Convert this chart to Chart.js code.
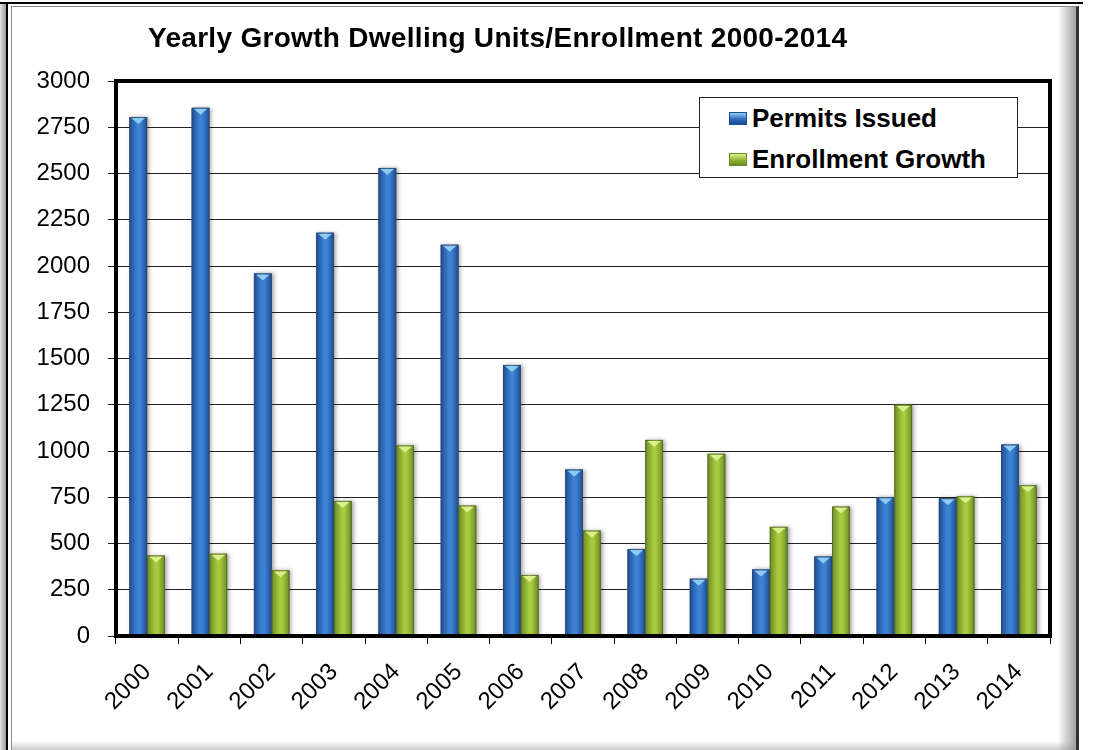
<!DOCTYPE html>
<html>
<head>
<meta charset="utf-8">
<title>Yearly Growth Dwelling Units/Enrollment 2000-2014</title>
<script src="https://cdn.jsdelivr.net/npm/chart.js@4.4.1/dist/chart.umd.min.js"></script>
<style>
    body { margin: 0; background: #fff; font-family: "Liberation Sans", Arial, sans-serif; }
    #wrap { position: relative; width: 1098px; height: 750px; overflow: hidden; }
    .frame { position: absolute; }
    #topLine { left: 0; top: 2px; width: 1083px; height: 2px; background: #000; }
    #leftBevel { left: 0; top: 4px; width: 6px; height: 746px; background: linear-gradient(to right, #e4e4e4, #9a9a9a); }
    #leftLine { left: 6px; top: 4px; width: 2px; height: 746px; background: #000; }
    #panel {
        left: 11px; top: 6px; width: 1064px; height: 744px;
        border-left: 1px solid #8a8a8a; border-top: 1px solid #8a8a8a; border-right: 3px solid #333;
        background:
            linear-gradient(to left, rgba(150,150,150,0.9) 0px, rgba(255,255,255,0) 18px),
            linear-gradient(to top, rgba(190,190,190,0.9) 0px, rgba(255,255,255,0) 10px),
            #fff;
    }
    #chartTitle {
        position: absolute; left: 148px; top: 24px; letter-spacing: 0.3px;
        font-size: 28px; line-height: 28px; font-weight: bold; color: #000; white-space: nowrap;
    }
    #legend {
        position: absolute; left: 699px; top: 97px; width: 317px; height: 79px;
        border: 1px solid #222; background: #fff;
    }
    .item { position: absolute; left: 29px; font-size: 26px; font-weight: bold; line-height: 26px; white-space: nowrap; }
    .swatch { display: inline-block; width: 16px; height: 11px; margin-right: 5px; vertical-align: 2px; }
    canvas { position: absolute; left: 0; top: 0; }
</style>
</head>
<body>
<div id="wrap">
    <div class="frame" id="topLine"></div>
    <div class="frame" id="leftBevel"></div>
    <div class="frame" id="leftLine"></div>
    <div class="frame" id="panel"></div>
    <canvas id="growthChart" width="1098" height="750"></canvas>
    <div id="chartTitle">Yearly Growth Dwelling Units/Enrollment 2000-2014</div>
    <div id="legend"></div>
</div>
<script>
// Data
const years = ['2000', '2001', '2002', '2003', '2004', '2005', '2006', '2007',
               '2008', '2009', '2010', '2011', '2012', '2013', '2014'];
const permitsIssued = [2805, 2855, 1960, 2180, 2530, 2115, 1465, 900, 470, 310, 360, 430, 750, 745, 1035];
const enrollmentGrowth = [435, 445, 355, 730, 1030, 705, 330, 570, 1060, 985, 590, 700, 1250, 755, 815];
const seriesNames = ['Permits Issued', 'Enrollment Growth'];
const yTicks = { min: 0, max: 3000, step: 250 };

// colours for the shaded bars: edge, centre, cap
const barShades = [
    { base: '#2B67B8', edge: '#1E4E94', mid: '#3C82D4', cap: '#8ECBF3' },
    { base: '#8BB030', edge: '#6C8C22', mid: '#A6CA40', cap: '#DCF08A' }
];

// paints each bar with a horizontal gradient, a light cap and a soft shadow
const barShading = {
    id: 'barShading',
    afterDatasetsDraw(chart) {
        const ctx = chart.ctx;
        chart.data.datasets.forEach((ds, di) => {
            const meta = chart.getDatasetMeta(di);
            const shade = barShades[di];
            meta.data.forEach(bar => {
                const p = bar.getProps(['x', 'y', 'width', 'base'], true);
                const left = p.x - p.width / 2, right = p.x + p.width / 2;
                const top = p.y, h = p.base - p.y;
                ctx.save();
                ctx.shadowColor = 'rgba(0,0,0,0.35)';
                ctx.shadowBlur = 4;
                ctx.shadowOffsetX = 2;
                ctx.shadowOffsetY = 0;
                const g = ctx.createLinearGradient(left, 0, right, 0);
                g.addColorStop(0, shade.edge);
                g.addColorStop(0.45, shade.mid);
                g.addColorStop(0.6, shade.mid);
                g.addColorStop(1, shade.edge);
                ctx.fillStyle = g;
                ctx.fillRect(left, top, p.width, h);
                ctx.restore();
                // top cap
                ctx.save();
                ctx.fillStyle = shade.cap;
                ctx.beginPath();
                ctx.moveTo(left + 2, top + 1);
                ctx.lineTo(right - 2, top + 1);
                ctx.lineTo(p.x, top + 7);
                ctx.closePath();
                ctx.fill();
                ctx.strokeStyle = 'rgba(60,60,60,0.45)';
                ctx.lineWidth = 1;
                ctx.strokeRect(left + 0.5, top + 0.5, p.width - 1, h - 1);
                ctx.restore();
            });
        });
    },
    afterDraw(chart) {
        const a = chart.chartArea;
        const ctx = chart.ctx;
        ctx.save();
        ctx.strokeStyle = '#000';
        ctx.lineWidth = 4;
        ctx.strokeRect(a.left, a.top, a.right - a.left, a.bottom - a.top);
        ctx.restore();
    }
};

const ctx = document.getElementById('growthChart').getContext('2d');
const chart = new Chart(ctx, {
    type: 'bar',
    data: {
        labels: years,
        datasets: [
            { label: seriesNames[0], data: permitsIssued, backgroundColor: barShades[0].base, borderWidth: 0 },
            { label: seriesNames[1], data: enrollmentGrowth, backgroundColor: barShades[1].base, borderWidth: 0 }
        ]
    },
    options: {
        responsive: false,
        animation: false,
        layout: { padding: { left: 0, top: 81, right: 48, bottom: 14 } },
        datasets: { bar: { categoryPercentage: 0.57, barPercentage: 1.0 } },
        plugins: {
            legend: { display: false },
            title: { display: false },
            tooltip: { enabled: false }
        },
        scales: {
            x: {
                afterFit(scale) { scale.height = 100; },
                grid: { drawOnChartArea: false, drawTicks: true, tickLength: 8, color: '#000', lineWidth: 1 },
                border: { color: '#000', width: 4 },
                ticks: {
                    color: '#000', maxRotation: 45, minRotation: 45, padding: 14,
                    font: { family: '"Liberation Sans", Arial, sans-serif', size: 24 }
                }
            },
            y: {
                min: yTicks.min, max: yTicks.max,
                afterFit(scale) { scale.width = 116; },
                grid: { color: '#222', lineWidth: 1, tickLength: 8 },
                border: { color: '#000', width: 4 },
                ticks: {
                    stepSize: yTicks.step, color: '#000', padding: 18,
                    callback: value => String(value),
                    font: { family: '"Liberation Sans", Arial, sans-serif', size: 24 }
                }
            }
        }
    },
    plugins: [barShading]
});

// HTML legend built from the datasets
const legendBox = document.getElementById('legend');
chart.data.datasets.forEach((ds, i) => {
    const item = document.createElement('div');
    item.className = 'item';
    item.style.top = (7 + i * 41) + 'px';
    const sw = document.createElement('span');
    sw.className = 'swatch';
    sw.style.background = 'linear-gradient(to bottom, ' + barShades[i].cap + ', ' + barShades[i].base + ' 60%, ' + barShades[i].edge + ')';
    sw.style.border = '1px solid ' + barShades[i].edge;
    item.appendChild(sw);
    item.appendChild(document.createTextNode(ds.label));
    legendBox.appendChild(item);
});
</script>
</body>
</html>
